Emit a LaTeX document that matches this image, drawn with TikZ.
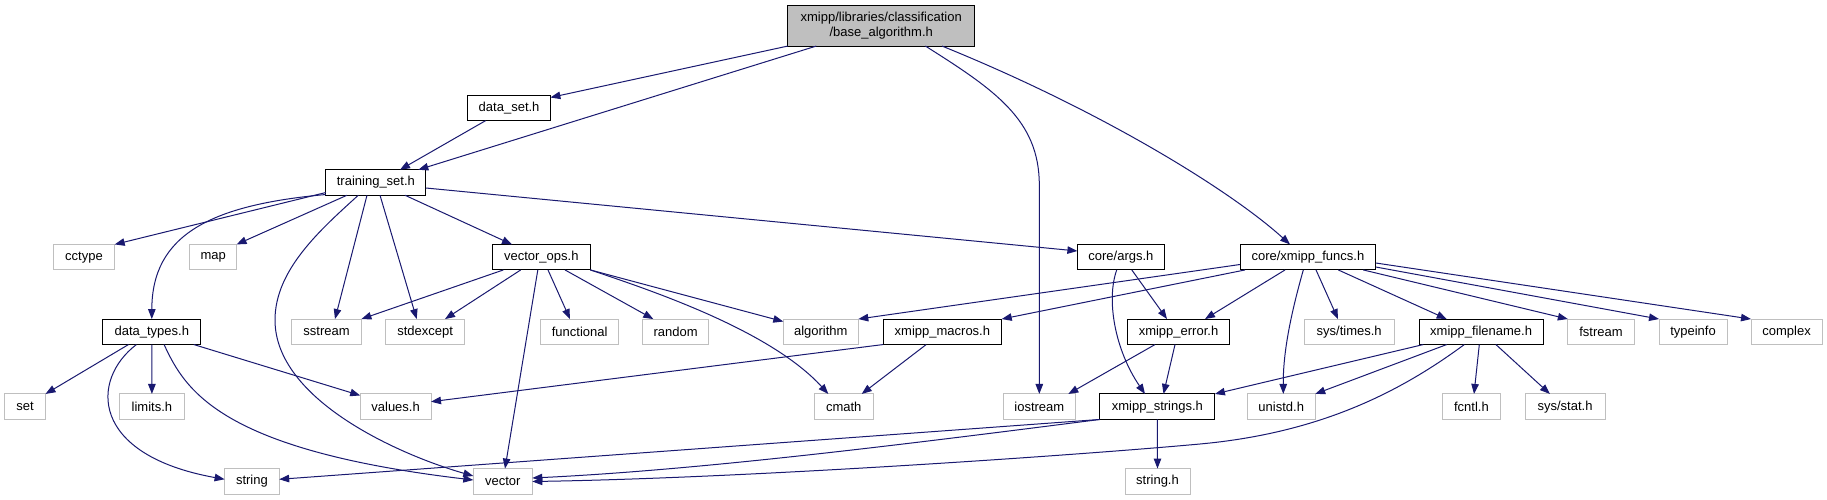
\documentclass[tikz,border=0pt]{standalone}
\usepackage{fontspec}
\setmainfont{Liberation Sans}
\usetikzlibrary{arrows.meta}
\definecolor{edgeblue}{HTML}{191970}
\definecolor{greyl}{HTML}{BFBFBF}
\newcommand{\fsz}{\fontsize{13}{15}\selectfont}
\tikzset{
  nb/.style={draw=black, line width=1pt, minimum height=25.5pt, inner sep=0pt, outer sep=0pt, font=\fsz},
  ng/.style={nb, draw=greyl},
  nroot/.style={nb, fill=greyl, minimum height=40.3pt, align=center},
  e/.style={draw=edgeblue, line width=1pt, -{Triangle[length=10pt,width=7.5pt]}},
}
\begin{document}
\begin{tikzpicture}[x=1pt,y=-1pt]
\fill[white] (0,0) rectangle (1827,500);
% nodes
\node[nroot, minimum width=186.7pt] (base) at (881.2,25.9) {xmipp/libraries/classification\\/base\_algorithm.h};
\node[nb, minimum width=82.6pt] (ds) at (509.1,107.9) {data\_set.h};
\node[nb, minimum width=100pt] (ts) at (375.9,182.5) {training\_set.h};
% row A
\node[ng, minimum width=61.3pt] (cctype) at (84,257.2) {cctype};
\node[ng, minimum width=46.7pt] (map) at (213.2,257.2) {map};
\node[nb, minimum width=98.1pt] (vops) at (541.3,257.2) {vector\_ops.h};
\node[nb, minimum width=87pt] (args) at (1120.9,257.2) {core/args.h};
\node[nb, minimum width=135.8pt] (funcs) at (1307.9,257.2) {core/xmipp\_funcs.h};
% row B
\node[nb, minimum width=98.1pt] (dtypes) at (151.8,331.8) {data\_types.h};
\node[ng, minimum width=69.6pt] (sstream) at (326.6,331.8) {sstream};
\node[ng, minimum width=78.7pt] (stdexcept) at (425.2,331.8) {stdexcept};
\node[ng, minimum width=78.3pt] (functional) at (579.7,331.8) {functional};
\node[ng, minimum width=66pt] (random) at (675.7,331.8) {random};
\node[ng, minimum width=75pt] (algorithm) at (820.8,331.8) {algorithm};
\node[nb, minimum width=118.6pt] (macros) at (942.4,331.8) {xmipp\_macros.h};
\node[nb, minimum width=101.5pt] (error) at (1178.5,331.8) {xmipp\_error.h};
\node[ng, minimum width=90.3pt] (systimes) at (1349.2,331.8) {sys/times.h};
\node[nb, minimum width=124pt] (filename) at (1481.1,331.8) {xmipp\_filename.h};
\node[ng, minimum width=66.3pt] (fstream) at (1601,331.8) {fstream};
\node[ng, minimum width=68pt] (typeinfo) at (1693,331.8) {typeinfo};
\node[ng, minimum width=71.2pt] (complex) at (1786.6,331.8) {complex};
% row C
\node[ng, minimum width=40.8pt] (set) at (25.1,406.7) {set};
\node[ng, minimum width=64.9pt] (limits) at (151.9,406.7) {limits.h};
\node[ng, minimum width=70.8pt] (values) at (395.6,406.7) {values.h};
\node[ng, minimum width=59pt] (cmath) at (843.7,406.7) {cmath};
\node[ng, minimum width=72pt] (iostream) at (1039.3,406.7) {iostream};
\node[nb, minimum width=115pt] (strings) at (1157.4,406.7) {xmipp\_strings.h};
\node[ng, minimum width=68pt] (unistd) at (1281.2,406.7) {unistd.h};
\node[ng, minimum width=58pt] (fcntl) at (1471.4,406.7) {fcntl.h};
\node[ng, minimum width=80pt] (sysstat) at (1565,406.7) {sys/stat.h};
% row D
\node[ng, minimum width=54.6pt] (string) at (251.9,481.3) {string};
\node[ng, minimum width=59pt] (vector) at (502.8,481.3) {vector};
\node[ng, minimum width=65pt] (stringh) at (1157.5,481.3) {string.h};
% edges from base
\draw[e] (787.8,0 |- base.south) -- (ds.east |- 0,97.5);
\draw[e] (816.3,0 |- base.south) -- (418.3,0 |- ts.north);
\draw[e] (485.6,0 |- ds.south) -- (400,0 |- ts.north);
\draw[e] (925.4,0 |- base.south) .. controls (995,90) and (1039.3,120) .. (iostream.north |- 0,185) -- (iostream.north);
\draw[e] (942,0 |- base.south) .. controls (1100,110) and (1230,190) .. (1290,0 |- funcs.north);
% edges from training_set
\draw[e] (ts.east |- 0,188) -- (args.west |- 0,251);
\draw[e] (ts.west |- 0,192.5) -- (cctype.north east);
\draw[e] (ts.west |- 0,194.5) .. controls (210,205) and (152,235) .. (dtypes.north);
\draw[e] (347,0 |- ts.south) -- (map.north east);
\draw[e] (358.3,0 |- ts.south) .. controls (320,230) and (275,270) .. (275,320) .. controls (275,400) and (400,455) .. (vector.west |- 0,476);
\draw[e] (367,0 |- ts.south) -- (335,0 |- sstream.north);
\draw[e] (380,0 |- ts.south) -- (416.7,0 |- stdexcept.north);
\draw[e] (405,0 |- ts.south) -- (512,0 |- vops.north);
% edges from vector_ops
\draw[e] (503.3,0 |- vops.south) -- (sstream.north east);
\draw[e] (520.7,0 |- vops.south) -- (445,0 |- stdexcept.north);
\draw[e] (548,0 |- vops.south) -- (570,0 |- functional.north);
\draw[e] (565,0 |- vops.south) -- (653.3,0 |- random.north);
\draw[e] (vops.south east) -- ([yshift=-2.5pt]algorithm.north west);
\draw[e] (vops.south east) .. controls (650,290) and (770,330) .. (828.3,0 |- cmath.north);
\draw[e] (537.8,0 |- vops.south) -- (505,0 |- vector.north);
% edges from data_types
\draw[e] (128.5,0 |- dtypes.south) -- (set.north east);
\draw[e] (dtypes.south) -- (limits.north);
\draw[e] (193.8,0 |- dtypes.south) -- ([yshift=-1.5pt]values.north west);
\draw[e] (136.4,0 |- dtypes.south) .. controls (90,380) and (90,455) .. (string.west |- 0,479.3);
\draw[e] (164.1,0 |- dtypes.south) .. controls (185,390) and (220,450) .. (vector.west |- 0,480);
% edges from xmipp_macros
\draw[e] (macros.south west) -- (values.east |- 0,401.7);
\draw[e] (926.2,0 |- macros.south) -- (861.7,0 |- cmath.north);
% edges from core/args
\draw[e] (1131.8,0 |- args.south) -- (1167,0 |- error.north);
\draw[e] (1116.7,0 |- args.south) .. controls (1106,300) and (1115,350) .. (1145,0 |- strings.north);
% edges from xmipp_error
\draw[e] (1155,0 |- error.south) -- ([xshift=-7pt]iostream.north east);
\draw[e] (1175,0 |- error.south) -- (1163.5,0 |- strings.north);
% edges from xmipp_strings
\draw[e] (strings.south west) -- (string.east |- 0,479.3);
\draw[e] (strings.south west) .. controls (900,445) and (700,470) .. (vector.east |- 0,478);
\draw[e] (strings.south) -- (stringh.north);
% edges from core/xmipp_funcs
\draw[e] (funcs.west |- 0,264.5) -- (algorithm.north east);
\draw[e] (1245,0 |- funcs.south) -- (macros.north east);
\draw[e] (1285,0 |- funcs.south) -- (1205,0 |- error.north);
\draw[e] (1303.3,0 |- funcs.south) .. controls (1292,310) and (1283,350) .. (1283.3,0 |- unistd.north);
\draw[e] (1316,0 |- funcs.south) -- (1338,0 |- systimes.north);
\draw[e] (1338.3,0 |- funcs.south) -- (1446.7,0 |- filename.north);
\draw[e] (1363.3,0 |- funcs.south) -- (fstream.north west);
\draw[e] (funcs.east |- 0,267) -- (typeinfo.north west);
\draw[e] (funcs.east |- 0,263) -- (complex.north west);
% edges from xmipp_filename
\draw[e] (1423.3,0 |- filename.south) -- (strings.north east);
\draw[e] (1446.7,0 |- filename.south) -- (unistd.north east);
\draw[e] (1479.3,0 |- filename.south) -- (1474,0 |- fcntl.north);
\draw[e] (1495.9,0 |- filename.south) -- (1549.9,0 |- sysstat.north);
\draw[e] (1464.3,0 |- filename.south) .. controls (1400,392) and (1320,433) .. (1200,444) .. controls (1080,455) and (750,478) .. (vector.east |- 0,481.5);
\end{tikzpicture}
\end{document}
